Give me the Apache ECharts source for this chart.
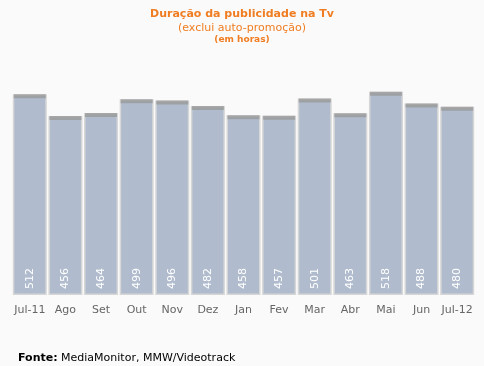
<!DOCTYPE html>
<html><head><meta charset="utf-8">
<script src="https://cdn.jsdelivr.net/npm/echarts@6/dist/echarts.min.js"></script>
<style>html,body{margin:0;padding:0;background:#fafafa}#c{width:484px;height:366px}</style>
</head><body><div id="c"></div>
<script>
const categories = ['Jul-11','Ago','Set','Out','Nov','Dez','Jan','Fev','Mar','Abr','Mai','Jun','Jul-12'];
const hours = [512,456,464,499,496,482,458,457,501,463,518,488,480];

const chart = echarts.init(document.getElementById('c'));
chart.setOption({
  backgroundColor: '#fafafa',
  animation: false,
  title: [
    {text: 'Duração da publicidade na Tv', left: 'center', top: 4,
     textStyle: {color: '#f07d21', fontSize: 11, fontWeight: 'bold', fontFamily: 'DejaVu Sans'}},
    {text: '(exclui auto-promoção)', left: 'center', top: 18,
     textStyle: {color: '#f07d21', fontSize: 11, fontWeight: 'normal', fontFamily: 'DejaVu Sans'}},
    {text: '(em horas)', left: 'center', top: 30,
     textStyle: {color: '#f07d21', fontSize: 9, fontWeight: 'bold', fontFamily: 'DejaVu Sans'}},
    {text: '{b|Fonte:} MediaMonitor, MMW/Videotrack', left: 13, top: 348,
     textStyle: {rich: {b: {fontWeight: 'bold', fontSize: 11, color: '#000', fontFamily: 'DejaVu Sans'}},
       color: '#000', fontSize: 11, fontWeight: 'normal', fontFamily: 'DejaVu Sans'}}
  ],
  grid: {left: 12, right: 9, top: 40, bottom: 71},
  xAxis: {type: 'category', data: categories,
    axisLine: {show: false}, axisTick: {show: false},
    axisLabel: {interval: 0, color: '#666', fontSize: 11, fontFamily: 'DejaVu Sans', margin: 10}},
  yAxis: {type: 'value', min: 0, max: 650, show: false, splitLine: {show: false}},
  series: [
    {type: 'bar', data: hours, barWidth: 34, barGap: '-100%',
     itemStyle: {color: '#b0bccd', borderColor: '#d6d6d6', borderWidth: 1.5},
     label: {show: true, position: 'insideBottom', rotate: 90, distance: 6,
       align: 'left', verticalAlign: 'middle',
       color: '#fff', fontSize: 11, fontFamily: 'DejaVu Sans'}},
    {type: 'scatter', data: hours, symbol: 'rect', symbolSize: [32, 4], symbolOffset: [0, 2],
     itemStyle: {color: '#9a9a9a'}, z: 3}
  ]
});
</script></body></html>
